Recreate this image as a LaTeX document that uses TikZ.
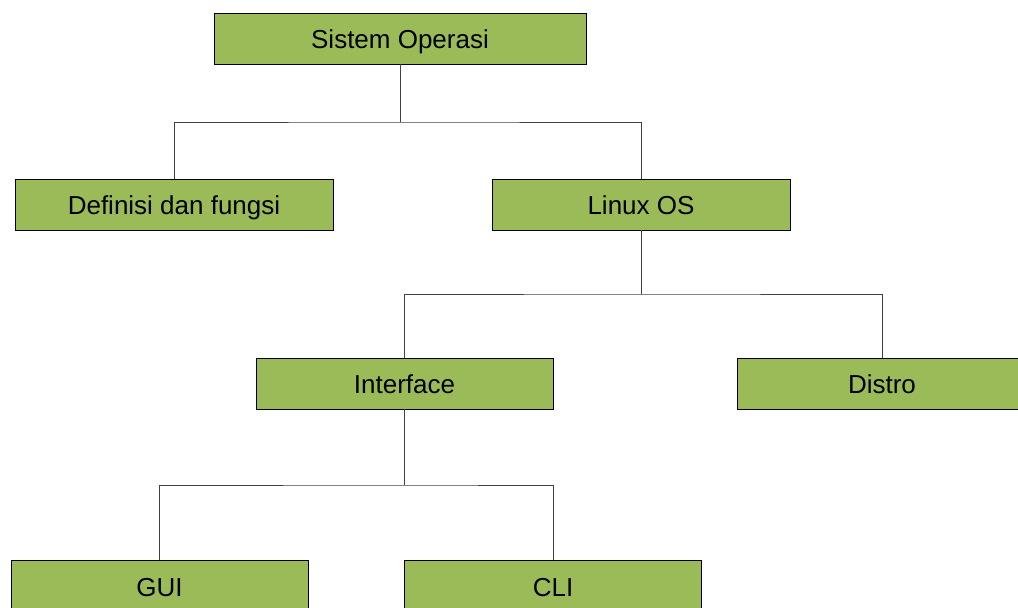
\documentclass[tikz,border=0pt]{standalone}
\usepackage{fontspec}
\setmainfont{Liberation Sans}
\usepackage{xcolor}
\definecolor{hijau}{RGB}{155,187,89}

\begin{document}
\begin{tikzpicture}[x=1pt,y=-1pt,
  kotak/.style={draw=black, line width=0.8pt, fill=hijau, minimum height=51pt,
    inner sep=0pt, text height=20.5pt, text depth=0pt,
    font=\fontsize{26}{30}\selectfont},
  garis/.style={draw=black!75, line width=0.9pt}]
\useasboundingbox (0,0) rectangle (1018,608);
% kotak
\node [kotak, minimum width=372pt] (sistem) at (400,38.5) {Sistem Operasi};
\node [kotak, minimum width=318pt] (definisi) at (174,204.5) {Definisi dan fungsi};
\node [kotak, minimum width=298pt] (linux) at (641,204.5) {Linux OS};
\node [kotak, minimum width=297pt] (interface) at (404.5,383.5) {Interface};
\node [kotak, minimum width=290pt] (distro) at (882,383.5) {Distro};
\node [kotak, minimum width=297pt] (gui) at (159.5,586) {GUI};
\node [kotak, minimum width=297pt] (cli) at (553,586) {CLI};
% cabang
\coordinate (j1) at (400,122);
\coordinate (j2) at (641,294);
\coordinate (j3) at (404.5,485);
% garis
\draw [garis] (sistem) -- (j1);
\draw [garis] (definisi.north) |- (j1) -| (linux.north);
\draw [garis] (linux) -- (j2);
\draw [garis] (interface.north) |- (j2) -| (distro.north);
\draw [garis] (interface) -- (j3);
\draw [garis] (gui.north) |- (j3) -| (cli.north);
\end{tikzpicture}
\end{document}
